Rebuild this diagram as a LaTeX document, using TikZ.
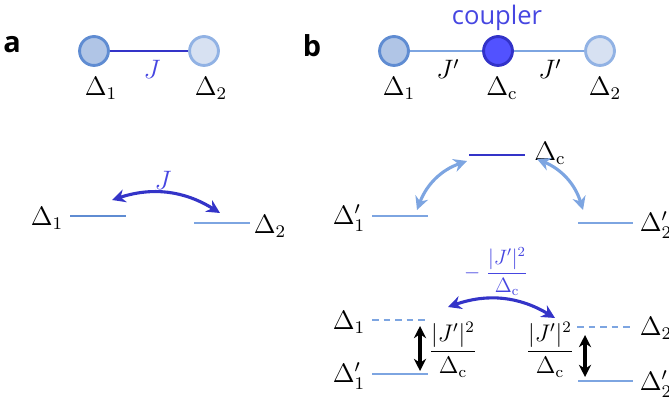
\documentclass[tikz,border=0pt]{standalone}
\usepackage{amsmath, amssymb}
\usepackage{fontspec}
\newfontfamily\labelfont{Open Sans}
\usetikzlibrary{arrows.meta}
\definecolor{qubitOne}{RGB}{176, 197, 230}
\definecolor{qubitOneEdge}{RGB}{95, 140, 210}
\definecolor{qubitTwo}{RGB}{215, 225, 242}
\definecolor{qubitTwoEdge}{RGB}{145, 178, 228}
\definecolor{couplerFill}{RGB}{82, 82, 255}
\definecolor{couplerEdge}{RGB}{50, 50, 200}
\definecolor{strongLink}{RGB}{52, 52, 200}
\definecolor{weakLink}{RGB}{125, 165, 225}
\definecolor{labelBlue}{RGB}{70, 70, 225}

\begin{document}
\begin{tikzpicture}[
  x=0.45pt, y=0.45pt,
  every node/.style={font=\fontsize{12}{14}\selectfont},
  site/.style={circle, draw, line width=1.3pt, minimum size=13pt, inner sep=0pt},
  panel/.style={font=\labelfont\bfseries\fontsize{13}{15}\selectfont},
  level/.style={line width=1.3pt},
  swap/.style={<->, line width=1.4pt, >={Stealth[length=6pt, width=6pt]}},
  lamb/.style={<->, line width=1.4pt, black, >={Stealth[length=5.5pt, width=5.5pt]}}
]
  \useasboundingbox (0,0) rectangle (669,-407);

  % panel labels
  \node[panel] (pa) at (12,-45) {a};
  \node[panel] (pb) at (312,-46) {b};

  % (a) two directly coupled qubits
  \node[site, fill=qubitOne, draw=qubitOneEdge] (q1) at (94,-51) {};
  \node[site, fill=qubitTwo, draw=qubitTwoEdge] (q2) at (204,-51) {};
  \draw[line width=1.2pt, strongLink] (q1) -- (q2);
  \node[text=labelBlue] (jA) at (152,-69) {$J$};
  \node (q1lab) at (101,-88) {$\Delta_1$};
  \node (q2lab) at (211,-88) {$\Delta_2$};

  % (b) qubits coupled through a coupler
  \node[site, fill=qubitOne, draw=qubitOneEdge] (p1) at (394,-51) {};
  \node[site, fill=couplerFill, draw=couplerEdge] (pc) at (498,-51) {};
  \node[site, fill=qubitTwo, draw=qubitTwoEdge] (p2) at (600,-51) {};
  \draw[line width=1.2pt, weakLink] (p1) -- (pc);
  \draw[line width=1.2pt, weakLink] (pc) -- (p2);
  \node[text=labelBlue, font=\labelfont\fontsize{11.5}{13}\selectfont] (cpl) at (497,-18) {coupler};
  \node (jL) at (448,-69) {$J'$};
  \node (jR) at (550,-69) {$J'$};
  \node (p1lab) at (399,-88) {$\Delta_1$};
  \node (pclab) at (502,-88) {$\Delta_\mathrm{c}$};
  \node (p2lab) at (605,-88) {$\Delta_2$};

  % (a) levels
  \coordinate (a1L) at (70,-216);  \coordinate (a1R) at (126,-216);
  \coordinate (a2L) at (194,-223); \coordinate (a2R) at (250,-223);
  \draw[level, qubitOneEdge] (a1L) -- (a1R);
  \draw[level, weakLink] (a2L) -- (a2R);
  \node (a1lab) at (47,-218) {$\Delta_1$};
  \node (a2lab) at (270,-226) {$\Delta_2$};
  \coordinate (aS) at (112,-200);
  \coordinate (aT) at (220,-213);
  \draw[swap, strongLink] (aS) to[bend left=25] (aT);
  \node[text=labelBlue] (jAlev) at (163,-180) {$J$};

  % (b) levels with the coupler
  \coordinate (cL) at (469,-155);  \coordinate (cR) at (525,-155);
  \coordinate (b1L) at (372,-216); \coordinate (b1R) at (428,-216);
  \coordinate (b2L) at (578,-223); \coordinate (b2R) at (633,-223);
  \draw[level, strongLink] (cL) -- (cR);
  \draw[level, weakLink] (b1L) -- (b1R);
  \draw[level, weakLink] (b2L) -- (b2R);
  \node (clab) at (550,-153) {$\Delta_\mathrm{c}$};
  \node (b1lab) at (349,-218) {$\Delta_1'$};
  \node (b2lab) at (656,-225) {$\Delta_2'$};
  \coordinate (bl1) at (417,-210); \coordinate (bl2) at (467,-161);
  \coordinate (br1) at (537,-159); \coordinate (br2) at (583,-210);
  \draw[swap, weakLink] (bl1) to[bend left=25] (bl2);
  \draw[swap, weakLink] (br1) to[bend left=25] (br2);

  % (b) dispersive shifts
  \coordinate (d1L) at (372,-320); \coordinate (d1R) at (427,-320);
  \coordinate (e1L) at (372,-374); \coordinate (e1R) at (428,-374);
  \coordinate (d2L) at (577,-327); \coordinate (d2R) at (633,-327);
  \coordinate (e2L) at (578,-381); \coordinate (e2R) at (633,-381);
  \draw[level, weakLink, dash pattern=on 3pt off 2.2pt] (d1L) -- (d1R);
  \draw[level, weakLink] (e1L) -- (e1R);
  \draw[level, weakLink, dash pattern=on 3pt off 2.2pt] (d2L) -- (d2R);
  \draw[level, weakLink] (e2L) -- (e2R);
  \node (d1lab) at (349,-322) {$\Delta_1$};
  \node (e1lab) at (349,-376) {$\Delta_1'$};
  \node (d2lab) at (656,-328) {$\Delta_2$};
  \node (e2lab) at (656,-384) {$\Delta_2'$};

  \coordinate (s1a) at (420,-326); \coordinate (s1b) at (420,-371);
  \coordinate (s2a) at (585,-335); \coordinate (s2b) at (585,-377);
  \draw[lamb] (s1a) -- (s1b);
  \draw[lamb] (s2a) -- (s2b);
  \node[scale=0.9] (f1) at (453,-350) {$\dfrac{|J'|^2}{\Delta_\mathrm{c}}$};
  \node[scale=0.9] (f2) at (550,-350) {$\dfrac{|J'|^2}{\Delta_\mathrm{c}}$};

  \coordinate (eS) at (448,-307);
  \coordinate (eT) at (555,-318);
  \draw[swap, strongLink] (eS) to[bend left=25] (eT);
  \node[text=labelBlue, scale=0.78] (eff) at (496,-272) {$-\;\dfrac{|J'|^2}{\Delta_\mathrm{c}}$};
\end{tikzpicture}
\end{document}
